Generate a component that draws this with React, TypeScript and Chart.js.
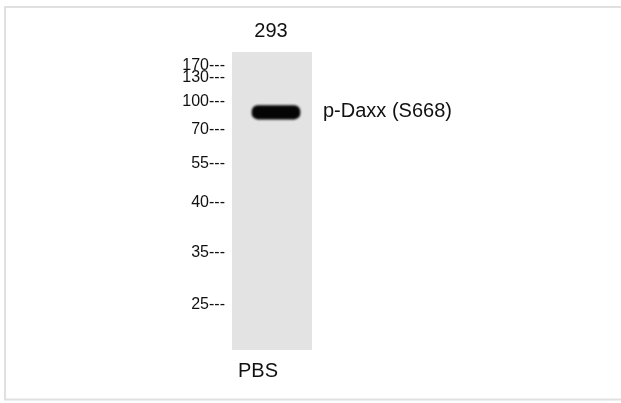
import React, { useEffect, useRef } from "react";
import { Chart, registerables } from "chart.js";

Chart.register(...registerables);

// Lane and sample labels
const laneLabels = ["PBS"];
const cellLineLabels = ["293"];
// Marker ladder (kDa) and their migration distance (% of lane length from the top)
const markerLabels = ["170", "130", "100", "70", "55", "40", "35", "25"];
const markerMigration = [4.4, 8.7, 16.8, 26.2, 37.6, 50.7, 67.4, 84.6];
// Detected band: horizontal centre (% of lane width), migration range (% of lane) and name
const bandCentre = [55];
const bandRange: [number, number] = [18.0, 22.5];
const bandLabelPos = [19.8];
const bandNames = ["p-Daxx (S668)"];
// The lane itself spans the whole gel
const laneRange: [number, number] = [0, 100];

const FONT = "'Liberation Sans', Arial, sans-serif";

export default function App() {
  const ref = useRef<HTMLCanvasElement | null>(null);

  useEffect(() => {
    if (!ref.current) return;

    const frame = {
      id: "frame",
      beforeDraw(chart: any) {
        const c = chart.ctx;
        c.save();
        c.fillStyle = "#ffffff";
        c.fillRect(0, 0, chart.width, chart.height);
        c.strokeStyle = "#e0e0e0";
        c.lineWidth = 2;
        c.strokeRect(5, 7, chart.width + 10, 392.5);
        c.restore();
      },
      beforeDatasetDraw(chart: any, args: any) {
        if (args.index === 0) {
          chart.ctx.save();
          chart.ctx.filter = "blur(1.2px)";
        }
      },
      afterDatasetDraw(chart: any, args: any) {
        if (args.index === 0) {
          chart.ctx.restore();
        }
      },
    };

    const chart = new Chart(ref.current, {
      type: "bar",
      data: {
        labels: laneLabels,
        datasets: [
          {
            data: [{ x: bandCentre[0], y: bandRange }] as any,
            xAxisID: "xBand",
            backgroundColor: "#050505",
            barThickness: 48,
            grouped: false,
            borderRadius: 6,
            borderSkipped: false,
          } as any,
          {
            data: [laneRange] as any,
            xAxisID: "x",
            backgroundColor: "#e3e3e3",
            barPercentage: 1,
            categoryPercentage: 1,
            grouped: false,
            borderSkipped: false,
          } as any,
        ],
      },
      plugins: [frame],
      options: {
        animation: false,
        responsive: false,
        layout: { padding: 0 },
        plugins: {
          legend: { display: false },
          tooltip: { enabled: false },
          title: { display: false },
        },
        scales: {
          x: {
            type: "category",
            position: "bottom",
            grid: { display: false, drawTicks: false },
            border: { display: false },
            ticks: {
              padding: 9,
              labelOffset: -14,
              color: "#111111",
              font: { family: FONT, size: 20 },
            },
            afterFit(s: any) {
              s.height = 53;
            },
          },
          xBand: {
            type: "linear",
            position: "bottom",
            display: false,
            min: 0,
            max: 100,
            offset: false,
          },
          xTop: {
            type: "category",
            position: "top",
            labels: cellLineLabels,
            grid: { display: false, drawTicks: false },
            border: { display: false },
            ticks: {
              padding: 9,
              labelOffset: -1,
              color: "#111111",
              font: { family: FONT, size: 20 },
            },
            afterFit(s: any) {
              s.height = 52;
            },
          },
          y: {
            type: "linear",
            position: "left",
            min: 0,
            max: 100,
            reverse: true,
            grid: { display: false, drawTicks: false },
            border: { display: false },
            afterBuildTicks(s: any) {
              s.ticks = markerMigration.map((v) => ({ value: v }));
            },
            ticks: {
              autoSkip: false,
              padding: 7,
              color: "#111111",
              font: { family: FONT, size: 16 },
              callback: (_v: any, i: number) => markerLabels[i] + "---",
            },
            afterFit(s: any) {
              s.width = 232;
            },
          },
          yRight: {
            type: "linear",
            position: "right",
            min: 0,
            max: 100,
            reverse: true,
            grid: { display: false, drawTicks: false },
            border: { display: false },
            afterBuildTicks(s: any) {
              s.ticks = bandLabelPos.map((v) => ({ value: v }));
            },
            ticks: {
              autoSkip: false,
              padding: 11,
              color: "#111111",
              font: { family: FONT, size: 20 },
              callback: (_v: any, i: number) => bandNames[i],
            },
            afterFit(s: any) {
              s.width = 309;
            },
          },
        },
      } as any,
    });

    return () => chart.destroy();
  }, []);

  return (
    <div style={{ position: "absolute", left: 0, top: 0, width: 621, height: 403 }}>
      <canvas ref={ref} width={621} height={403} style={{ display: "block" }} />
    </div>
  );
}
